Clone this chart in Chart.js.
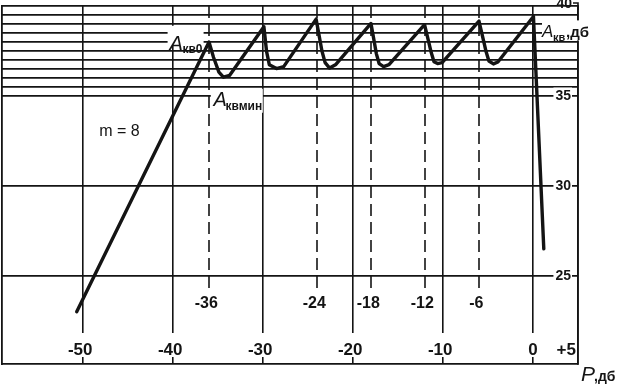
<!DOCTYPE html>
<html><head><meta charset="utf-8">
<script src="https://cdn.jsdelivr.net/npm/chart.js@4.4.1/dist/chart.umd.min.js"></script>
<style>html,body{margin:0;padding:0;background:#fff;}canvas{display:block;}</style>
</head><body>
<canvas id="c" width="618" height="384"></canvas>
<script>
// Curve A_кв(P), m = 8
const pressureDb  = [-50.7, -36.0, -35.5, -34.9, -34.4, -33.7, -29.9, -29.6, -29.3, -28.5, -27.7,
                     -24.1, -23.45, -23.1, -22.6, -21.9, -18.0, -17.4, -17.1, -16.6, -16.0,
                     -12.05, -11.3, -11.0, -10.6, -10.1, -6.0, -5.2, -4.9, -4.4, -3.9, 0.05, 1.2];
const amplitudeDb = [ 23.0, 38.0, 37.15, 36.32, 36.04, 36.15, 38.85, 37.46, 36.74, 36.52, 36.63,
                      39.27, 37.5, 36.85, 36.55, 36.75, 39.03, 37.34, 36.8, 36.63, 36.74,
                      38.96, 37.4, 36.9, 36.8, 36.85, 39.16, 37.44, 36.94, 36.78, 36.89, 39.42, 26.5];
// dashed peak markers
const peakMarkers = [-36, -24, -18, -12, -6];
const peakMarkerLabels = ['-36', '-24', '-18', '-12', '-6'];
// axes
const xTicks = [-50, -40, -30, -20, -10, 0, 5];
const xTickLabels = ['-50', '-40', '-30', '-20', '-10', '0', '+5'];
const yGridValues = [25, 30, 35, 35.5, 36, 36.5, 37, 37.5, 38, 38.5, 39, 39.5, 40];
const yTickLabels = {25: '25', 30: '30', 35: '35'};
const yTopLabel = '40';

const INK = '#141414';
const FONT = '"Liberation Sans", Arial, sans-serif';

const datasets = [{
  data: pressureDb.map((p, i) => ({x: p, y: amplitudeDb[i]})),
  borderColor: INK, borderWidth: 3.4, pointRadius: 0, tension: 0,
  borderJoinStyle: 'round', borderCapStyle: 'round', order: 0
}];
peakMarkers.forEach(p => datasets.push({
  data: [{x: p, y: 40}, {x: p, y: 24.3}],
  borderColor: INK, borderWidth: 1.6, borderDash: [12, 6], pointRadius: 0, order: 1
}));

function txt(ctx, s, x, y, font, align, base) {
  ctx.font = font; ctx.textAlign = align || 'left'; ctx.textBaseline = base || 'alphabetic';
  ctx.fillText(s, x, y);
}
const noPad = s => { if (s.isHorizontal()) { s.height = 0; } else { s.width = 0; } s.paddingTop = 0; s.paddingBottom = 0; s.paddingLeft = 0; s.paddingRight = 0; };

const annot = {
  id: 'annot',
  beforeDatasetsDraw(chart) {
    const {ctx, chartArea: a, scales: {x, y}} = chart;
    ctx.save();
    ctx.fillStyle = '#fff';
    // gap above x labels (grid lines stop there)
    ctx.fillRect(a.left + 1.5, a.bottom - 31, a.right - a.left - 3, 24);
    // label backgrounds
    ctx.fillRect(x.getPixelForValue(-40.6), y.getPixelForValue(38.9), 36, 20);
    ctx.fillRect(x.getPixelForValue(-35.8), y.getPixelForValue(35.4), 52, 24);
    ctx.fillRect(x.getPixelForValue(1.0), y.getPixelForValue(39.2), 48, 20);
    ctx.restore();
  },
  afterDraw(chart) {
    const {ctx, chartArea: a, scales: {x, y}} = chart;
    ctx.save();
    ctx.fillStyle = INK;
    // x-axis labels inside frame
    const xl = a.bottom - 9;
    xTicks.forEach((v, i) => {
      const s = xTickLabels[i];
      const px = x.getPixelForValue(v);
      ctx.font = 'bold 17px ' + FONT;
      if (i === xTicks.length - 1) { txt(ctx, s, px - 2, xl, ctx.font, 'right'); return; }
      const digits = s.replace(/^[-+]/, '');
      const w = ctx.measureText(digits).width;
      txt(ctx, s, px + w / 2, xl, ctx.font, 'right');
    });
    // peak marker labels
    peakMarkers.forEach((v, i) => {
      const s = peakMarkerLabels[i];
      const px = x.getPixelForValue(v);
      ctx.font = 'bold 16px ' + FONT;
      const w = ctx.measureText(s.replace(/^[-+]/, '')).width;
      txt(ctx, s, px + w / 2, y.getPixelForValue(23.2), ctx.font, 'right');
    });
    // top y label
    txt(ctx, yTopLabel, a.right - 6, a.top + 2, 'bold 14px ' + FONT, 'right');
    ctx.lineWidth = 1.6; ctx.strokeStyle = INK;
    ctx.beginPath(); ctx.moveTo(a.right - 5, a.top - 3); ctx.lineTo(a.right, a.top - 3); ctx.lineTo(a.right, a.top + 4); ctx.stroke();
    // A_кв0
    let px = x.getPixelForValue(-40.4), py = y.getPixelForValue(37.55);
    txt(ctx, 'A', px, py, 'italic 20px ' + FONT);
    txt(ctx, 'кв0', px + 13, py + 3, 'bold 12px ' + FONT);
    // A_кв мин
    px = x.getPixelForValue(-35.5); py = y.getPixelForValue(34.45);
    txt(ctx, 'A', px, py, 'italic 20px ' + FONT);
    txt(ctx, 'квмин', px + 12, py + 4, 'bold 12px ' + FONT);
    // m = 8
    txt(ctx, 'm = 8', x.getPixelForValue(-48.2), y.getPixelForValue(32.8), '16px ' + FONT);
    // A_кв, дб (axis title)
    px = x.getPixelForValue(1.0); py = y.getPixelForValue(38.3);
    txt(ctx, 'A', px, py, 'italic 17px ' + FONT);
    txt(ctx, 'кв', px + 11, py + 4, 'bold 11px ' + FONT);
    txt(ctx, ',дб', px + 24, py, 'bold 15px ' + FONT);
    // Р, дб (x-axis title)
    px = a.right + 3; py = a.bottom + 17;
    txt(ctx, 'Р', px, py, 'italic 21px ' + FONT);
    txt(ctx, ',дб', px + 13, py, 'bold 14px ' + FONT);
    ctx.restore();
  }
};

new Chart(document.getElementById('c'), {
  type: 'line',
  data: {datasets},
  options: {
    responsive: false, animation: false, devicePixelRatio: 1,
    layout: {padding: {left: 2, top: 6, right: 40, bottom: 20}},
    plugins: {legend: {display: false}, tooltip: {enabled: false}},
    scales: {
      x: {
        type: 'linear', min: -59, max: 5,
        afterBuildTicks: s => { s.ticks = xTicks.map(v => ({value: v})); },
        afterFit: noPad,
        ticks: {display: false},
        grid: {color: INK, lineWidth: 1.6, drawTicks: false},
        border: {display: true, color: INK, width: 1.8}
      },
      y: {
        type: 'linear', position: 'right', min: 20.1, max: 40,
        afterBuildTicks: s => { s.ticks = yGridValues.map(v => ({value: v})); },
        afterFit: noPad,
        ticks: {
          mirror: true, crossAlign: 'near', padding: -7, color: INK,
          font: {family: FONT, size: 14, weight: 'bold'},
          callback: v => yTickLabels[v] || '',
          showLabelBackdrop: c => !!yTickLabels[c.tick && c.tick.value],
          backdropColor: '#fff', backdropPadding: {left: 2, right: 1, top: 0, bottom: 0}
        },
        grid: {color: INK, lineWidth: 1.8, drawTicks: false},
        border: {display: true, color: INK, width: 1.8}
      },
      yL: {
        type: 'linear', position: 'left', min: 20.1, max: 40,
        afterFit: noPad,
        ticks: {display: false},
        grid: {display: false, drawTicks: false},
        border: {display: true, color: INK, width: 1.8}
      }
    }
  },
  plugins: [annot]
});
</script>
</body></html>
